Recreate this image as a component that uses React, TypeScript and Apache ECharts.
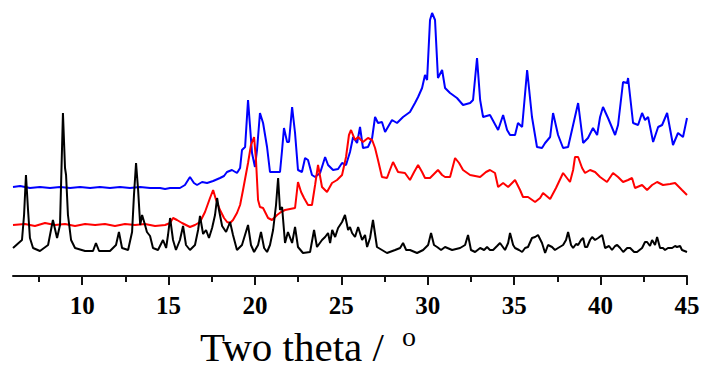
import React, { useEffect, useRef } from "react";
import * as echarts from "echarts";

// 2θ positions (degrees) and intensities (arbitrary units, offset-stacked)
const blackX = [6.0, 6.52, 6.64, 6.75, 6.87, 6.98, 7.16, 7.56, 8.03, 8.31, 8.55, 8.72, 8.89, 9.01, 9.07, 9.18, 9.36, 9.59, 10.17, 10.63, 10.8, 10.98, 11.61, 11.96, 12.13, 12.31, 12.66, 12.89, 13.0, 13.12, 13.24, 13.36, 13.47, 13.64, 13.75, 13.93, 14.1, 14.39, 14.68, 14.86, 14.97, 15.09, 15.26, 15.43, 15.66, 15.84, 16.01, 16.24, 16.53, 16.71, 16.82, 17.0, 17.17, 17.34, 17.52, 17.69, 17.81, 17.92, 18.1, 18.33, 18.56, 18.73, 18.96, 19.25, 19.6, 19.77, 19.95, 20.18, 20.35, 20.53, 20.7, 20.87, 21.05, 21.22, 21.34, 21.45, 21.57, 21.74, 21.91, 22.15, 22.32, 22.49, 22.78, 23.19, 23.42, 23.59, 23.88, 24.06, 24.23, 24.35, 24.47, 24.64, 24.81, 25.04, 25.21, 25.39, 25.5, 25.62, 25.79, 25.97, 26.2, 26.37, 26.49, 26.66, 26.83, 27.06, 27.35, 27.64, 28.11, 28.4, 28.57, 28.75, 28.97, 29.38, 29.73, 30.02, 30.19, 30.36, 30.54, 30.77, 31.0, 31.41, 31.87, 32.16, 32.33, 32.5, 32.74, 33.03, 33.26, 33.43, 33.6, 33.78, 34.01, 34.18, 34.47, 34.65, 34.76, 34.94, 35.05, 35.28, 35.46, 35.63, 35.8, 36.03, 36.21, 36.38, 36.61, 36.79, 36.96, 37.19, 37.36, 37.54, 37.83, 38.0, 38.12, 38.29, 38.41, 38.58, 38.7, 38.87, 38.99, 39.1, 39.22, 39.39, 39.51, 39.68, 39.86, 40.09, 40.26, 40.49, 40.66, 40.84, 40.96, 41.13, 41.31, 41.54, 41.71, 41.94, 42.11, 42.4, 42.57, 42.69, 42.86, 42.98, 43.15, 43.27, 43.44, 43.61, 43.73, 43.9, 44.14, 44.31, 44.42, 44.6, 44.71, 45.0];
const blackY = [28, 36, 61, 101, 66, 38, 28, 25, 31, 56, 38, 51, 163, 108, 101, 61, 36, 28, 25, 25, 33, 25, 25, 31, 44, 28, 26, 44, 81, 113, 86, 51, 61, 51, 44, 40, 28, 26, 36, 28, 41, 58, 36, 26, 36, 50, 31, 26, 31, 46, 60, 42, 46, 38, 48, 61, 78, 66, 50, 44, 54, 41, 26, 31, 51, 31, 24, 31, 44, 28, 24, 31, 46, 71, 98, 66, 69, 33, 44, 33, 49, 29, 23, 24, 46, 29, 36, 39, 43, 33, 46, 39, 48, 54, 61, 46, 49, 43, 39, 49, 36, 41, 29, 38, 56, 29, 26, 23, 26, 28, 33, 26, 26, 23, 26, 31, 43, 31, 29, 26, 29, 26, 28, 31, 41, 26, 24, 28, 26, 29, 26, 26, 30, 33, 26, 33, 43, 31, 28, 26, 24, 28, 29, 38, 39, 41, 33, 23, 31, 29, 26, 28, 31, 36, 44, 31, 28, 32, 31, 36, 38, 29, 29, 36, 39, 36, 38, 41, 28, 30, 26, 30, 31, 28, 24, 28, 28, 24, 24, 28, 34, 34, 30, 36, 31, 39, 28, 28, 26, 28, 28, 30, 29, 30, 26, 24];

const redX = [6.0, 6.69, 7.27, 7.85, 8.43, 9.01, 9.59, 10.17, 10.75, 11.32, 11.9, 12.48, 13.06, 13.64, 14.22, 14.8, 15.09, 15.26, 15.49, 15.78, 16.24, 16.53, 16.82, 17.11, 17.4, 17.58, 17.75, 17.98, 18.21, 18.39, 18.56, 18.73, 18.96, 19.14, 19.31, 19.6, 19.77, 19.95, 20.06, 20.18, 20.29, 20.47, 20.76, 20.99, 21.28, 21.51, 21.74, 22.03, 22.32, 22.49, 22.67, 22.84, 23.07, 23.3, 23.48, 23.65, 23.88, 24.17, 24.46, 24.75, 25.04, 25.27, 25.44, 25.56, 25.79, 25.97, 26.25, 26.54, 26.78, 26.95, 27.12, 27.35, 27.64, 27.81, 27.99, 28.28, 28.68, 28.97, 29.21, 29.44, 29.67, 29.84, 30.13, 30.36, 30.59, 30.83, 31.0, 31.29, 31.58, 31.81, 32.04, 32.45, 33.03, 33.37, 33.6, 33.89, 34.07, 34.36, 34.65, 35.05, 35.34, 35.51, 35.8, 36.21, 36.5, 36.67, 37.08, 37.42, 37.83, 38.23, 38.41, 38.52, 38.7, 38.93, 39.1, 39.39, 39.68, 39.97, 40.37, 40.72, 41.01, 41.3, 41.59, 41.82, 41.99, 42.4, 42.69, 42.98, 43.27, 43.61, 44.02, 44.31, 44.71, 45.0];
const redY = [51, 52, 50, 53, 51, 52, 50, 52, 51, 52, 50, 52, 51, 52, 50, 51, 53, 58, 56, 53, 49, 51, 54, 64, 78, 86, 76, 66, 58, 54, 53, 56, 63, 71, 86, 113, 131, 139, 116, 76, 69, 68, 58, 56, 61, 64, 66, 67, 68, 94, 84, 78, 71, 71, 91, 111, 89, 84, 93, 96, 101, 119, 141, 146, 136, 139, 134, 138, 136, 128, 116, 99, 98, 106, 114, 104, 103, 96, 104, 111, 104, 98, 98, 102, 106, 101, 99, 99, 118, 113, 106, 101, 99, 104, 106, 103, 89, 93, 89, 96, 86, 79, 79, 74, 78, 83, 77, 88, 103, 94, 106, 119, 119, 108, 103, 106, 104, 99, 94, 103, 99, 94, 96, 98, 88, 91, 86, 91, 94, 91, 92, 93, 86, 81];

const blueX = [6.0, 6.41, 6.98, 7.56, 8.14, 8.72, 9.3, 9.88, 10.46, 11.03, 11.61, 12.19, 12.77, 13.35, 13.93, 14.51, 14.8, 15.09, 15.66, 15.95, 16.24, 16.47, 16.65, 16.94, 17.23, 17.58, 17.98, 18.21, 18.38, 18.67, 18.96, 19.14, 19.25, 19.43, 19.6, 19.71, 19.83, 20.0, 20.12, 20.29, 20.47, 20.7, 20.87, 21.16, 21.45, 21.57, 21.68, 21.86, 21.97, 22.15, 22.32, 22.49, 22.72, 22.9, 23.07, 23.3, 23.48, 23.77, 24.06, 24.23, 24.52, 24.81, 25.04, 25.27, 25.5, 25.68, 25.91, 26.08, 26.25, 26.54, 26.78, 26.95, 27.12, 27.35, 27.53, 27.93, 28.22, 28.57, 28.97, 29.26, 29.44, 29.67, 29.84, 29.96, 30.13, 30.25, 30.42, 30.59, 30.83, 31.0, 31.29, 31.69, 32.04, 32.45, 32.62, 32.85, 33.03, 33.2, 33.6, 34.07, 34.36, 34.59, 34.76, 35.05, 35.22, 35.46, 35.75, 36.03, 36.32, 36.61, 36.79, 37.08, 37.25, 37.54, 37.83, 38.12, 38.41, 38.7, 38.99, 39.27, 39.56, 39.8, 39.97, 40.14, 40.43, 40.84, 41.01, 41.3, 41.54, 41.59, 41.88, 42.17, 42.4, 42.57, 42.75, 43.04, 43.33, 43.56, 43.85, 44.19, 44.48, 44.77, 45.0];
const blueY = [89, 90, 88, 89, 88, 89, 88, 89, 88, 89, 88, 89, 88, 89, 88, 88, 87, 88, 88, 91, 99, 93, 91, 94, 93, 95, 98, 100, 104, 106, 103, 108, 126, 129, 176, 151, 123, 109, 126, 163, 153, 129, 104, 104, 104, 126, 148, 134, 134, 169, 143, 106, 104, 118, 116, 101, 99, 103, 119, 111, 106, 107, 113, 111, 124, 139, 133, 149, 128, 129, 138, 159, 153, 154, 144, 156, 153, 159, 164, 173, 179, 188, 201, 196, 256, 263, 256, 198, 206, 188, 183, 178, 171, 173, 176, 218, 176, 159, 161, 146, 161, 146, 141, 141, 153, 149, 206, 159, 129, 128, 133, 139, 163, 141, 128, 129, 151, 173, 133, 138, 148, 141, 159, 169, 158, 141, 151, 194, 193, 198, 153, 151, 163, 156, 159, 134, 149, 151, 163, 131, 143, 139, 158];

const majorTicks = [10, 15, 20, 25, 30, 35, 40, 45];
const minorTicks = [7.5, 12.5, 17.5, 22.5, 27.5, 32.5, 37.5, 42.5];
const axisTitle = "Two theta / ";
const axisTitleSup = "o";

const pairs = (xs: number[], ys: number[]) => xs.map((x, i) => [x, ys[i]]);

const serif = "Liberation Serif";

export default function App() {
  const ref = useRef<HTMLDivElement>(null);
  useEffect(() => {
    if (!ref.current) return;
    const chart = echarts.init(ref.current, undefined, { renderer: "svg" });
    chart.setOption({
      animation: false,
      backgroundColor: "#ffffff",
      grid: { left: 13, right: 16, top: 0, bottom: 93, containLabel: false, outerBoundsMode: "none" },
      xAxis: [
        {
          type: "value",
          min: 6,
          max: 45,
          position: "bottom",
          axisLine: { show: true, lineStyle: { color: "#111", width: 2 } },
          axisTick: { show: true, length: 9, lineStyle: { color: "#111", width: 2 }, customValues: majorTicks },
          axisLabel: {
            customValues: majorTicks,
            fontFamily: serif,
            fontWeight: "bold",
            fontSize: 25,
            color: "#000",
            margin: 17,
          },
          splitLine: { show: false },
        },
        {
          type: "value",
          min: 6,
          max: 45,
          position: "bottom",
          axisLine: { show: false },
          axisTick: { show: true, length: 6, lineStyle: { color: "#111", width: 2 }, customValues: minorTicks },
          axisLabel: { show: false },
          splitLine: { show: false },
        },
      ],
      yAxis: { type: "value", min: 0, max: 276, show: false, splitLine: { show: false } },
      series: [
        { name: "blue", type: "line", xAxisIndex: 0, data: pairs(blueX, blueY), showSymbol: false, lineStyle: { color: "#0000ff", width: 2 }, itemStyle: { color: "#0000ff" } },
        { name: "red", type: "line", xAxisIndex: 0, data: pairs(redX, redY), showSymbol: false, lineStyle: { color: "#ff0000", width: 2 }, itemStyle: { color: "#ff0000" } },
        { name: "black", type: "line", xAxisIndex: 0, data: pairs(blackX, blackY), showSymbol: false, lineStyle: { color: "#000000", width: 2 }, itemStyle: { color: "#000000" } },
      ],
      graphic: [
        { type: "text", left: 200, top: 326, style: { text: axisTitle, fontFamily: serif, fontSize: 41, fill: "#000" } },
        { type: "text", left: 402, top: 322, style: { text: axisTitleSup, fontFamily: serif, fontSize: 28, fill: "#000" } },
      ],
    });
    return () => chart.dispose();
  }, []);
  return <div ref={ref} style={{ position: "fixed", left: 0, top: 0, width: 703, height: 369 }} />;
}
